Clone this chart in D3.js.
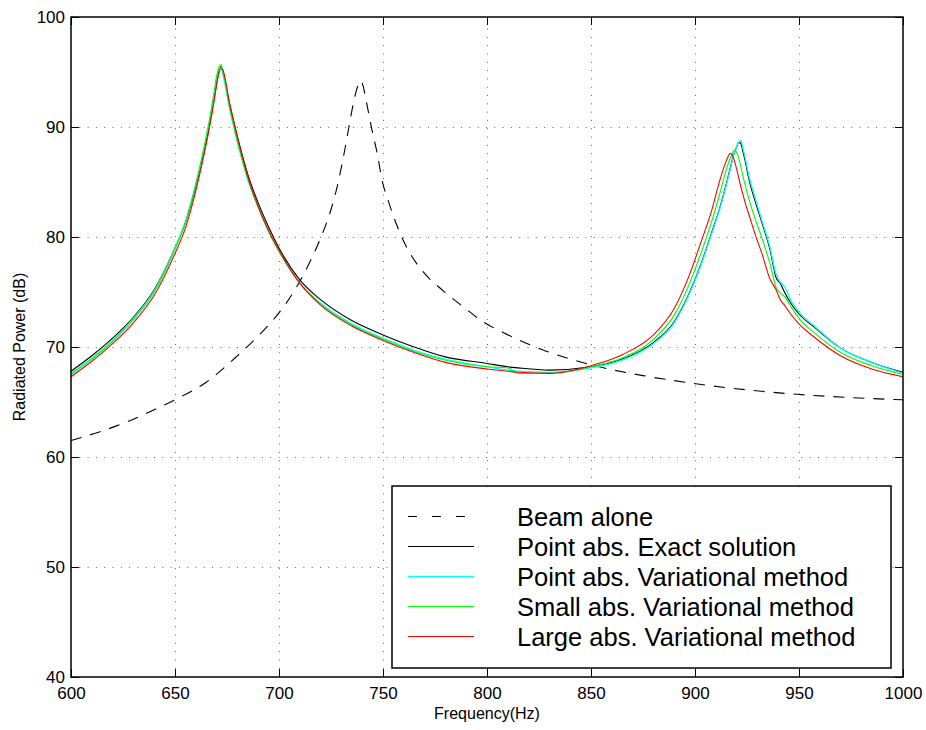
<!DOCTYPE html>
<html>
<head>
<meta charset="utf-8">
<script src="https://cdn.jsdelivr.net/npm/d3@7"></script>
<style>
  body { margin: 0; background: #fff; }
  svg { display: block; font-family: "Liberation Sans", Arial, sans-serif; }
</style>
</head>
<body>
<div id="chart"></div>
<script>
/* values */
const freqHz = [600, 610, 620, 630, 640, 650, 655, 660, 664, 667, 669, 670, 671, 672, 673, 674,
  676, 678, 681, 685, 690, 695, 700, 710, 720, 735, 750, 765, 780, 800, 810, 815, 830, 850, 865,
  880, 890, 897, 903, 908, 912, 915, 917, 918, 919, 920, 921, 922, 923, 924, 926, 929, 932, 936,
  939, 941, 943, 946, 950, 958, 970, 985, 1000];

const exactDb = [67.8, 69.2, 70.8, 72.7, 75.2, 79.0, 81.3, 84.6, 87.8, 90.6, 92.8, 94.0, 95.0, 95.5, 95.1, 94.3,
  92.3, 90.7, 88.4, 85.7, 83.1, 80.9, 79.0, 76.1, 74.3, 72.4, 71.1, 70.0, 69.1, 68.5, 68.2, 68.1, 67.9, 68.2, 68.9,
  70.4, 72.3, 74.8, 77.6, 80.4, 82.7, 84.8, 86.3, 87.1, 87.7, 88.2, 88.6, 88.5, 87.8, 87.0, 85.2, 83.2, 81.4, 78.9,
  76.3, 75.8, 75.0, 74.0, 73.0, 71.7, 69.9, 68.6, 67.7];

const pointVarDb = [67.6, 69.0, 70.6, 72.6, 75.1, 79.0, 81.4, 84.8, 88.1, 91.0, 93.2, 94.4, 95.2, 95.4, 94.8, 93.9,
  91.9, 90.2, 87.9, 85.2, 82.7, 80.5, 78.7, 75.8, 74.0, 72.1, 70.8, 69.7, 68.9, 68.2, 67.9, 67.8, 67.7, 68.1, 68.8,
  70.3, 72.2, 74.7, 77.5, 80.3, 82.6, 84.7, 86.2, 87.0, 87.7, 88.2, 88.6, 88.8, 88.1, 87.3, 85.5, 83.5, 81.6, 79.1,
  76.6, 75.9, 75.5, 74.3, 73.2, 71.8, 69.9, 68.6, 67.6];

const smallVarDb = [67.5, 68.9, 70.5, 72.5, 75.0, 78.9, 81.3, 84.8, 88.2, 91.1, 93.4, 94.6, 95.4, 95.7, 95.1, 94.2,
  92.0, 90.3, 88.0, 85.3, 82.7, 80.5, 78.7, 75.8, 73.9, 72.0, 70.7, 69.6, 68.8, 68.2, 68.1, 67.6, 67.6, 68.2, 69.0,
  70.7, 72.9, 75.6, 78.6, 81.4, 84.0, 86.1, 87.2, 87.6, 87.9, 87.7, 87.2, 86.4, 85.6, 84.8, 83.4, 81.6, 80.0, 77.6,
  75.4, 74.9, 74.6, 73.7, 72.6, 71.2, 69.5, 68.3, 67.5];

const largeVarDb = [67.3, 68.7, 70.3, 72.2, 74.7, 78.5, 80.8, 84.2, 87.5, 90.4, 92.6, 93.8, 94.8, 95.3, 95.2, 94.5,
  92.4, 90.7, 88.3, 85.5, 82.8, 80.6, 78.8, 75.8, 73.8, 71.9, 70.6, 69.5, 68.6, 68.0, 67.8, 67.7, 67.6, 68.3, 69.3,
  71.1, 73.5, 76.4, 79.6, 82.4, 85.2, 86.9, 87.6, 87.4, 86.9, 86.2, 85.4, 84.6, 83.9, 83.2, 82.0, 80.2, 78.6, 76.2,
  75.2, 74.3, 73.8, 73.0, 72.1, 70.8, 69.2, 68.0, 67.3];

const beamFreqHz = [600, 614, 627, 640, 650, 665, 680, 690, 695, 700, 707, 715, 720, 725, 728, 731, 734, 736,
  738, 739, 740, 742, 744.5, 747, 750, 752, 755, 759, 764, 769, 779, 789, 798, 808, 817, 826, 835, 854, 875,
  899, 925, 949, 975, 1000];
const beamDb = [61.5, 62.3, 63.2, 64.3, 65.2, 66.8, 69.2, 71.0, 72.0, 73.1, 75.0, 77.8, 79.9, 82.5, 84.6, 87.3, 90.4, 92.4,
  93.8, 94.2, 94.0, 92.3, 89.9, 87.8, 84.8, 83.6, 81.9, 80.0, 78.2, 76.9, 75.1, 73.6, 72.3, 71.3, 70.5, 69.8, 69.2, 68.2, 67.4,
  66.7, 66.1, 65.7, 65.4, 65.2];

const xTicks = [600, 650, 700, 750, 800, 850, 900, 950, 1000];
const yTicks = [40, 50, 60, 70, 80, 90, 100];

const seriesNames = ["Beam alone", "Point abs. Exact solution", "Point abs. Variational method",
  "Small abs. Variational method", "Large abs. Variational method"];
const seriesColors = ["#000000", "#000000", "#00ffff", "#00ff00", "#ff0000"];

const w = 926;
const h = 730;
const padL = 71, padR = 903, padT = 17, padB = 677;

const xScale = d3.scaleLinear().domain([600, 1000]).range([padL, padR]);
const yScale = d3.scaleLinear().domain([40, 100]).range([padB, padT]);

const svg = d3.select("#chart").append("svg")
  .attr("width", w)
  .attr("height", h);

svg.append("defs").append("clipPath").attr("id", "plotClip")
  .append("rect")
  .attr("x", padL).attr("y", padT)
  .attr("width", padR - padL).attr("height", padB - padT);

// dotted grid
const grid = svg.append("g").attr("stroke", "#000").attr("stroke-opacity", 0.6)
  .attr("stroke-width", 1).attr("stroke-dasharray", "1,7.3");
grid.selectAll("line.vx")
  .data(xTicks.slice(1, -1))
  .enter().append("line")
  .attr("x1", d => Math.round(xScale(d)) + 0.5).attr("x2", d => Math.round(xScale(d)) + 0.5)
  .attr("y1", padB).attr("y2", padT);
grid.selectAll("line.hy")
  .data(yTicks.slice(1, -1))
  .enter().append("line")
  .attr("y1", d => Math.round(yScale(d)) + 0.5).attr("y2", d => Math.round(yScale(d)) + 0.5)
  .attr("x1", padL).attr("x2", padR);

// curves
const line = d3.line()
  .x(d => xScale(d[0]))
  .y(d => yScale(d[1]))
  .curve(d3.curveMonotoneX);

const curves = [
  d3.zip(beamFreqHz, beamDb),
  d3.zip(freqHz, exactDb),
  d3.zip(freqHz, pointVarDb),
  d3.zip(freqHz, smallVarDb),
  d3.zip(freqHz, largeVarDb)
];

svg.append("g").attr("clip-path", "url(#plotClip)")
  .selectAll("path")
  .data(curves)
  .enter().append("path")
  .attr("d", line)
  .attr("fill", "none")
  .attr("stroke", (d, i) => seriesColors[i])
  .attr("stroke-width", (d, i) => i === 2 ? 1.3 : 1.1)
  .attr("stroke-dasharray", (d, i) => i === 0 ? "11,9" : null);

// axes, ticks pointing inward
const xAxis = d3.axisBottom(xScale).tickValues(xTicks).tickFormat(d3.format("d"))
  .tickSizeInner(-8).tickSizeOuter(0).tickPadding(10);
const yAxis = d3.axisLeft(yScale).tickValues(yTicks).tickFormat(d3.format("d"))
  .tickSizeInner(-8).tickSizeOuter(0).tickPadding(6);

svg.append("g")
  .attr("transform", "translate(0," + padB + ")")
  .call(xAxis);
svg.append("g")
  .attr("transform", "translate(" + padL + ",0)")
  .call(yAxis);

svg.append("g")
  .attr("transform", "translate(0," + padT + ")")
  .call(d3.axisTop(xScale).tickValues(xTicks).tickSizeInner(-8).tickSizeOuter(0).tickFormat(""));
svg.append("g")
  .attr("transform", "translate(" + padR + ",0)")
  .call(d3.axisRight(yScale).tickValues(yTicks).tickSizeInner(-8).tickSizeOuter(0).tickFormat(""));

svg.selectAll(".domain").remove();
svg.selectAll(".tick line").attr("stroke", "#000");
svg.selectAll(".tick text").attr("font-size", 17).attr("fill", "#000")
  .attr("font-family", "'Liberation Sans', Arial, sans-serif");

svg.append("rect")
  .attr("x", padL).attr("y", padT)
  .attr("width", padR - padL).attr("height", padB - padT)
  .attr("fill", "none").attr("stroke", "#000").attr("stroke-width", 1.5);

// axis titles
svg.append("text")
  .attr("x", (padL + padR) / 2).attr("y", 719)
  .attr("text-anchor", "middle").attr("font-size", 16)
  .text("Frequency(Hz)");
svg.append("text")
  .attr("transform", "translate(25," + (padT + padB) / 2 + ") rotate(-90)")
  .attr("text-anchor", "middle").attr("font-size", 16)
  .text("Radiated Power (dB)");

// legend
const lg = svg.append("g");
lg.append("rect")
  .attr("x", 392).attr("y", 486).attr("width", 499).attr("height", 182)
  .attr("fill", "#fff").attr("stroke", "#000").attr("stroke-width", 1.5);

const items = lg.selectAll("g.item")
  .data(seriesNames)
  .enter().append("g")
  .attr("transform", (d, i) => "translate(0," + (526 + i * 30) + ")");
items.append("line")
  .attr("x1", 408).attr("x2", 474)
  .attr("y1", -9.5).attr("y2", -9.5)
  .attr("stroke", (d, i) => seriesColors[i])
  .attr("stroke-width", (d, i) => i === 2 ? 1.6 : 1.1)
  .attr("stroke-dasharray", (d, i) => i === 0 ? "9,15" : null);
items.append("text")
  .attr("x", 517).attr("y", 0)
  .attr("font-size", 25.5)
  .text(d => d);
</script>
</body>
</html>
